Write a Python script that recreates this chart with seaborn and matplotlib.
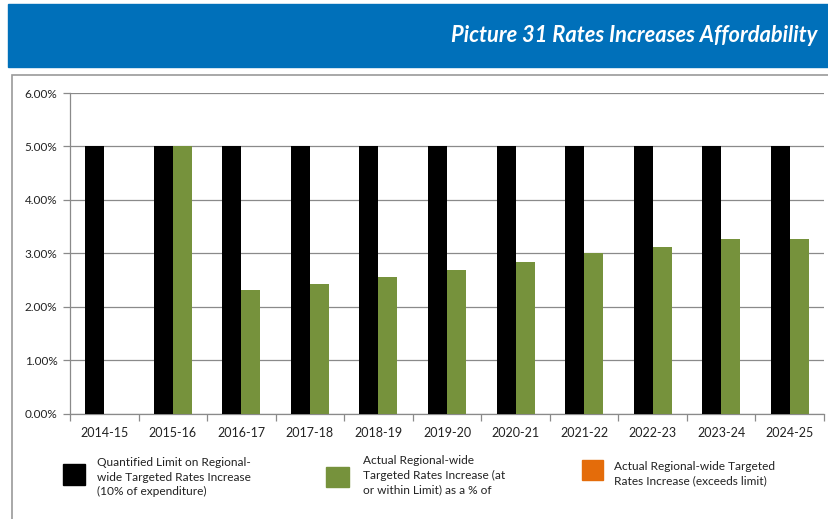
import matplotlib
matplotlib.use("Agg")
import matplotlib.pyplot as plt
from matplotlib.patches import Rectangle
from matplotlib.ticker import FuncFormatter, FixedLocator
import seaborn as sns
import pandas as pd

# Financial years on the category axis
years = ["2014-15", "2015-16", "2016-17", "2017-18", "2018-19", "2019-20",
         "2020-21", "2021-22", "2022-23", "2023-24", "2024-25"]

# Quantified limit on regional-wide targeted rates increase (%)
limit_pct = [5.0, 5.0, 5.0, 5.0, 5.0, 5.0, 5.0, 5.0, 5.0, 5.0, 5.0]

# Actual regional-wide targeted rates increase within the limit (%)
actual_pct = [0.0, 5.0, 2.32, 2.43, 2.56, 2.69, 2.83, 3.0, 3.11, 3.27, 3.27]

series_labels = [
    "Quantified Limit on Regional-\nwide Targeted Rates Increase\n(10% of expenditure)",
    "Actual Regional-wide\nTargeted Rates Increase (at\nor within Limit) as a % of",
    "Actual Regional-wide Targeted\nRates Increase (exceeds limit)",
]
series_colors = ["#000000", "#76923C", "#E46C0A"]

title_text = "Picture 31 Rates Increases Affordability"

W, H = 829, 519
sns.set_theme(style="white")
plt.rcParams["font.family"] = ["Lato", "DejaVu Sans"]

fig = plt.figure(figsize=(W / 100, H / 100), dpi=100)

def px(x0, y0, x1, y1):
    """Figure-fraction box from pixel corners (origin top-left)."""
    return [x0 / W, 1 - y1 / H, (x1 - x0) / W, (y1 - y0) / H]

# Blue banner with the heading
fig.patches.append(Rectangle((8 / W, 1 - 67 / H), (W - 8) / W, 63 / H,
                             transform=fig.transFigure, color="#0070BA", zorder=-2))
title = fig.text(817 / W, 1 - 36 / H, title_text, ha="right", va="center",
                 color="white", fontsize=15, fontweight="bold", fontstyle="italic")
fig.canvas.draw()
tw = title.get_window_extent().width
title.set_fontsize(15 * 367 / tw)

# Grey chart frame
fig.patches.append(Rectangle((12 / W, -0.05), 1.1, 1 - 75 / H + 0.05,
                             transform=fig.transFigure, facecolor="white",
                             edgecolor="#9a9a9a", lw=1.2, zorder=-2))

ax = fig.add_axes(px(70, 93, 824, 413.5))
ax.set_zorder(1)
ax.set_facecolor("none")

df = pd.DataFrame({
    "year": years * 2,
    "series": [series_labels[0]] * len(years) + [series_labels[1]] * len(years),
    "value": limit_pct + actual_pct,
})
sns.barplot(data=df, x="year", y="value", hue="series",
            hue_order=series_labels[:2], palette=series_colors[:2],
            width=0.555, saturation=1, legend=False, ax=ax, zorder=3)
for p in ax.patches:
    p.set_edgecolor("none")

grid_c = "#8a8a8a"
ax.set_ylim(0, 6)
ax.set_xlim(-0.5, len(years) - 0.5)
ax.set_yticks([0, 1, 2, 3, 4, 5, 6])
ax.yaxis.set_major_formatter(FuncFormatter(lambda v, _: f"{v:.2f}%"))
ax.yaxis.grid(True, color=grid_c, lw=0.9)
ax.set_axisbelow(True)
ax.set_xlabel("")
ax.set_ylabel("")
for side in ["top", "right"]:
    ax.spines[side].set_visible(False)
for side in ["left", "bottom"]:
    ax.spines[side].set_color(grid_c)
    ax.spines[side].set_linewidth(0.9)

ax.tick_params(axis="y", which="major", left=True, length=5, width=0.9,
               color=grid_c, pad=4, labelsize=8.5, labelcolor="#222222")
ax.tick_params(axis="x", which="major", bottom=False, length=0, pad=10,
               labelsize=9, labelcolor="#222222")
ax.xaxis.set_minor_locator(FixedLocator([i - 0.5 for i in range(len(years) + 1)]))
ax.tick_params(axis="x", which="minor", bottom=True, length=5, width=0.9,
               color=grid_c)

# Legend row beneath the plot
legend_items = [
    (63, 464, 22, 21, 97, 466),
    (326, 467, 23, 20, 363, 464),
    (582, 460, 21, 20, 614, 470),
]
for (sx, sy, sw, sh, tx, ty), lab, col in zip(legend_items, series_labels, series_colors):
    fig.patches.append(Rectangle((sx / W, 1 - (sy + sh) / H), sw / W, sh / H,
                                 transform=fig.transFigure, color=col, zorder=2))
    fig.text(tx / W, 1 - (ty - 9) / H, lab, ha="left", va="top",
             fontsize=8.6, color="#222222", linespacing=1.4)

fig.savefig("out.png", dpi=100)
